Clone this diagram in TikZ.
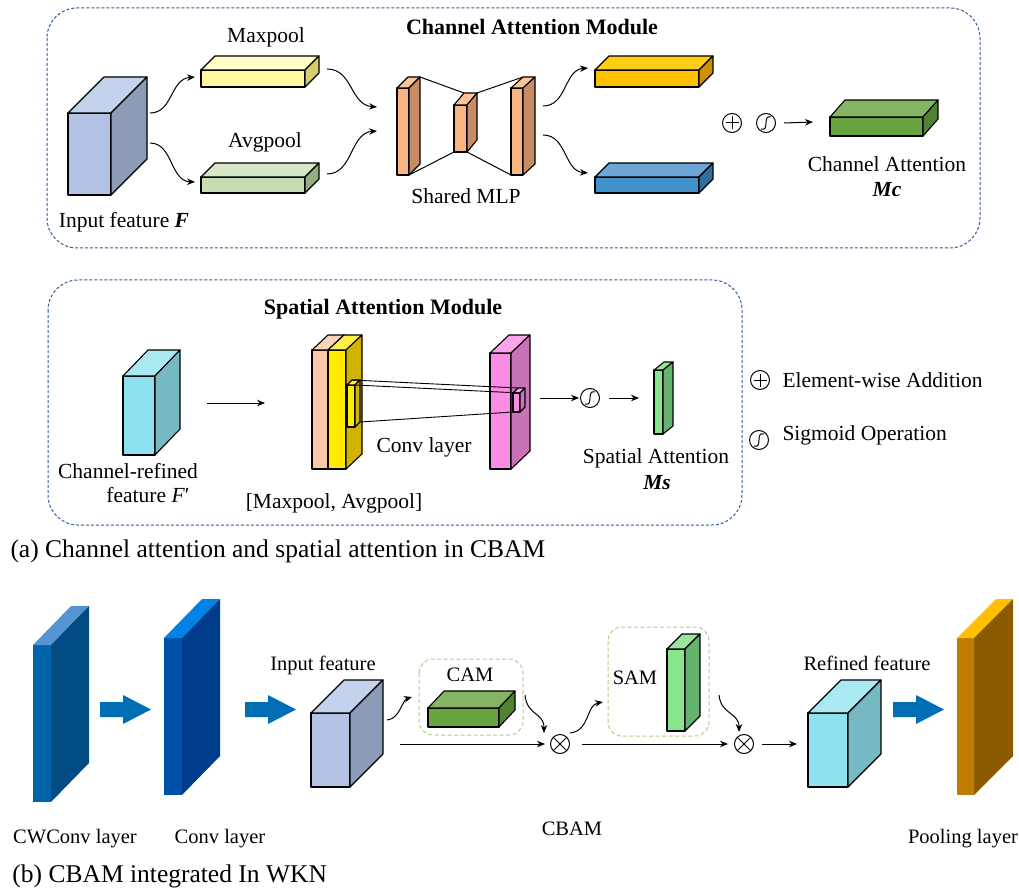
\documentclass[tikz,border=0pt]{standalone}
\usepackage{fontspec}
\setmainfont{Liberation Serif}
\usetikzlibrary{arrows.meta}
\definecolor{inF}{RGB}{180,194,230}\definecolor{inT}{RGB}{196,210,236}\definecolor{inS}{RGB}{140,155,182}
\definecolor{yelF}{RGB}{255,250,160}\definecolor{yelT}{RGB}{255,253,195}\definecolor{yelS}{RGB}{215,205,110}
\definecolor{avgF}{RGB}{200,220,180}\definecolor{avgT}{RGB}{214,230,198}\definecolor{avgS}{RGB}{150,172,130}
\definecolor{orF}{RGB}{250,180,130}\definecolor{orT}{RGB}{252,196,152}\definecolor{orS}{RGB}{200,140,100}
\definecolor{goldF}{RGB}{255,192,0}\definecolor{goldT}{RGB}{255,206,20}\definecolor{goldS}{RGB}{205,145,0}
\definecolor{bluF}{RGB}{65,145,205}\definecolor{bluT}{RGB}{110,165,215}\definecolor{bluS}{RGB}{50,110,160}
\definecolor{grF}{RGB}{104,165,64}\definecolor{grT}{RGB}{132,180,100}\definecolor{grS}{RGB}{80,130,50}
\definecolor{cyF}{RGB}{142,226,240}\definecolor{cyT}{RGB}{170,232,242}\definecolor{cyS}{RGB}{118,185,195}
\definecolor{peF}{RGB}{250,200,168}\definecolor{peT}{RGB}{250,212,184}\definecolor{peS}{RGB}{210,160,130}
\definecolor{ylF}{RGB}{255,235,0}\definecolor{ylT}{RGB}{255,240,70}\definecolor{ylS}{RGB}{210,180,0}
\definecolor{pkF}{RGB}{250,140,230}\definecolor{pkT}{RGB}{250,165,235}\definecolor{pkS}{RGB}{200,115,185}
\definecolor{lgF}{RGB}{135,230,140}\definecolor{lgT}{RGB}{155,228,155}\definecolor{lgS}{RGB}{100,180,110}
\definecolor{cwF}{RGB}{0,100,170}\definecolor{cwT}{RGB}{85,150,210}\definecolor{cwS}{RGB}{0,75,130}
\definecolor{cvF}{RGB}{0,80,170}\definecolor{cvT}{RGB}{0,130,230}\definecolor{cvS}{RGB}{0,60,140}
\definecolor{plF}{RGB}{190,125,0}\definecolor{plT}{RGB}{255,192,0}\definecolor{plS}{RGB}{140,90,0}
\definecolor{arrB}{RGB}{0,110,180}
\definecolor{dashB}{RGB}{50,90,160}
\definecolor{dashG}{RGB}{169,209,142}
\newcommand{\mycube}[9]{%
  \path[cubeline,fill=#7] (#1,#2) rectangle ++(#3,#4);
  \path[cubeline,fill=#8] (#1,#2) -- ++(#5,-#6) -- ++(#3,0) -- ++(-#5,#6) -- cycle;
  \path[cubeline,fill=#9] (#1+#3,#2) -- ++(#5,-#6) -- ++(0,#4) -- ++(-#5,#6) -- cycle;
}
\newcommand{\plusop}[1]{\draw ([xshift=-6.5pt]#1.center) -- ([xshift=6.5pt]#1.center) ([yshift=-6.5pt]#1.center) -- ([yshift=6.5pt]#1.center);}
\newcommand{\timesop}[1]{\draw (#1.north west) -- (#1.south east) (#1.north east) -- (#1.south west);}
\newcommand{\sigop}[1]{\draw ([shift={(-5,6)}]#1.center) .. controls ([shift={(4,9)}]#1.center) and ([shift={(-4,-9)}]#1.center) .. ([shift={(5,-6)}]#1.center);}
\newcommand{\blockarrow}[2]{\fill[arrB] (#1,#2-7.5) -- (#1+23,#2-7.5) -- (#1+23,#2-14.5) -- (#1+51,#2) -- (#1+23,#2+14.5) -- (#1+23,#2+7.5) -- (#1,#2+7.5) -- cycle;}
\begin{document}
\begin{tikzpicture}[x=1pt,y=-1pt,line width=1pt,
  cubeline/.style={draw=black,line width=1.1pt,line join=round},
  lbl/.style={font=\fontsize{21.5}{24}\selectfont,inner sep=0,anchor=base},
  lblb/.style={font=\fontsize{20.5}{24}\selectfont,inner sep=0,anchor=base},
  ttl/.style={font=\fontsize{22}{24}\selectfont\bfseries,inner sep=0,anchor=base},
  captxt/.style={font=\fontsize{25.5}{28}\selectfont,inner sep=0,anchor=base west},
  arr/.style={-{Stealth[length=8pt,width=6.5pt]},line width=1pt},
  opn/.style={circle,draw,line width=1pt,minimum size=19pt,inner sep=0},
  bdash/.style={draw=dashB,line width=1pt,dash pattern=on 3pt off 2pt,rounded corners=30pt},
  gdash/.style={draw=dashG,line width=1pt,dash pattern=on 4pt off 2.5pt,rounded corners=14pt}]
\fill[white] (0,0) rectangle (1019,890);
\useasboundingbox (0,0) rectangle (1019,890);

% ================= Channel attention module =================
\draw[bdash] (47,8) rectangle (980,248);
\node[ttl] (camtitle) at (532,35) {Channel Attention Module};

\mycube{68}{113}{43}{82}{36}{36}{inF}{inT}{inS}
\node[lbl] (linF) at (124,228) {Input feature \textbf{\textit{F}}};
\mycube{201}{70}{104}{17}{14}{14}{yelF}{yelT}{yelS}
\node[lbl] (lmax) at (266,43) {Maxpool};
\mycube{201}{177}{104}{16}{14}{14}{avgF}{avgT}{avgS}
\node[lbl] (lavg) at (265,148) {Avgpool};

\coordinate (a1s) at (150,113); \coordinate (a1e) at (195,77);
\coordinate (a2s) at (150,143); \coordinate (a2e) at (195,182);
\coordinate (a3s) at (327,69);  \coordinate (a3e) at (377,107);
\coordinate (a4s) at (327,174); \coordinate (a4e) at (377,131);
\coordinate (a5s) at (543,106); \coordinate (a5e) at (588,68);
\coordinate (a6s) at (543,135); \coordinate (a6e) at (588,173);
\draw[arr] (a1s) .. controls (173,113) and (170,79) .. (a1e);
\draw[arr] (a2s) .. controls (173,143) and (170,181) .. (a2e);
\draw[arr] (a3s) .. controls (353,69) and (350,105) .. (a3e);
\draw[arr] (a4s) .. controls (353,174) and (350,133) .. (a4e);
\draw[arr] (a5s) .. controls (567,106) and (564,70) .. (a5e);
\draw[arr] (a6s) .. controls (567,135) and (564,171) .. (a6e);

% shared MLP
\mycube{397}{88}{12}{87}{11}{11}{orF}{orT}{orS}
\mycube{454}{105}{13}{47}{10}{12}{orF}{orT}{orS}
\mycube{511}{88}{12}{87}{12}{11}{orF}{orT}{orS}
\coordinate (m1) at (420,77); \coordinate (m2) at (464,93);
\coordinate (m3) at (477,93); \coordinate (m4) at (523,77);
\coordinate (m5) at (409,175); \coordinate (m6) at (454,152);
\coordinate (m7) at (467,152); \coordinate (m8) at (511,175);
\draw (m1) -- (m2) (m3) -- (m4) (m5) -- (m6) (m7) -- (m8);
\node[lbl] (lmlp) at (466,204) {Shared MLP};

\mycube{595}{70}{104}{17}{14}{14}{goldF}{goldT}{goldS}
\mycube{595}{177}{104}{16}{14}{14}{bluF}{bluT}{bluS}

\node[opn] (plus1) at (732,123) {}; \plusop{plus1}
\node[opn] (sig1) at (766,123) {}; \sigop{sig1}
\coordinate (mcin) at (813,122);
\draw[arr] ([xshift=8pt]sig1.east) -- (mcin);
\mycube{830}{117}{93}{19}{15}{17}{grF}{grT}{grS}
\node[lbl] (lmc1) at (887,172) {Channel Attention};
\node[lbl] (lmc2) at (887,197) {\textbf{\textit{Mc}}};

% ================= Spatial attention module =================
\draw[bdash] (48,280) rectangle (742,525);
\node[ttl] (samtitle) at (383,314) {Spatial Attention Module};

\mycube{123}{376}{32}{79}{25}{26}{cyF}{cyT}{cyS}
\node[lbl] (lcr1) at (128,478) {Channel-refined};
\node[lbl] (lcr2) at (148,502) {feature \textit{F}′};
\coordinate (s1s) at (207,403); \coordinate (s1e) at (265,403);
\draw[arr] (s1s) -- (s1e);

\mycube{312}{350}{16}{119}{16}{15}{peF}{peT}{peS}
\mycube{328}{350}{18}{119}{16}{15}{ylF}{ylT}{ylS}
\mycube{347}{385}{8}{42}{5}{5}{ylF}{ylT}{ylS}
\mycube{490}{353}{21}{116}{19}{18}{pkF}{pkT}{pkS}
\mycube{513}{393}{7}{19}{5}{5}{pkF}{pkT}{pkS}
\coordinate (k1) at (352,380); \coordinate (k2) at (518,388);
\coordinate (k3) at (355,385); \coordinate (k4) at (520,393);
\coordinate (k5) at (360,422); \coordinate (k6) at (513,412);
\draw[line width=0.9pt] (k1) -- (k2) (k3) -- (k4) (k5) -- (k6);
\node[lbl] (lconv) at (424,452) {Conv layer};
\node[lbl] (lpool) at (334,508) {[Maxpool, Avgpool]};

\coordinate (s2s) at (540,398);
\node[opn] (sig2) at (590,398) {}; \sigop{sig2}
\coordinate (s3e) at (639,398);
\draw[arr] (s2s) -- ([xshift=-1pt]sig2.west);
\draw[arr] ([xshift=9pt]sig2.east) -- (s3e);
\mycube{654}{370}{9}{64}{10}{8}{lgF}{lgT}{lgS}
\node[lbl] (lsa1) at (656,463) {Spatial Attention};
\node[lbl] (lsa2) at (657,489) {\textbf{\textit{Ms}}};

% legend
\node[opn] (legA) at (760,380) {}; \plusop{legA}
\node[lbl,anchor=base west] (legAt) at (782,387) {Element-wise Addition};
\node[opn] (legS) at (759,440) {}; \sigop{legS}
\node[lbl,anchor=base west] (legSt) at (782,440) {Sigmoid Operation};

\node[captxt] (capa) at (10,557) {(a) Channel attention and spatial attention in CBAM};

% ================= CBAM in WKN =================
\begin{scope}[cubeline/.style={draw=none}]
\mycube{33}{645}{18}{157}{38}{39}{cwF}{cwT}{cwS}
\mycube{164}{638}{18}{157}{38}{39}{cvF}{cvT}{cvS}
\mycube{957}{638}{17}{157}{39}{39}{plF}{plT}{plS}
\end{scope}
\blockarrow{100}{709.5}
\blockarrow{245}{709.5}
\blockarrow{893}{709.5}
\node[lblb] (lcw) at (75,843) {CWConv layer};
\node[lblb] (lcv) at (220,843) {Conv layer};
\node[lblb] (lpl) at (963,843) {Pooling layer};

\mycube{311}{713}{39}{74}{33}{33}{inF}{inT}{inS}
\node[lblb] (lif) at (323,670) {Input feature};

\draw[gdash] (419,659) rectangle (523,735);
\node[lblb] (lcam) at (470,681) {CAM};
\mycube{428}{708}{71}{19}{16}{17}{grF}{grT}{grS}

\draw[gdash] (608,627) rectangle (709,736);
\node[lblb] (lsam) at (635,684) {SAM};
\mycube{667}{649}{18}{82}{15}{15}{lgF}{lgT}{lgS}

\node[opn] (x1) at (560,744) {}; \timesop{x1}
\node[opn] (x2) at (744,744) {}; \timesop{x2}

\coordinate (b1s) at (387,720); \coordinate (b1e) at (412,697);
\coordinate (b2s) at (525,695); \coordinate (b2e) at (544,733);
\coordinate (b3s) at (570,733); \coordinate (b3e) at (603,702);
\coordinate (b4s) at (719,695); \coordinate (b4e) at (739,732);
\coordinate (h1s) at (400,744); \coordinate (h1e) at (545,744);
\coordinate (h2s) at (582,744); \coordinate (h2e) at (728,744);
\coordinate (h3s) at (762,744); \coordinate (h3e) at (797,744);
\draw[arr] (b1s) .. controls (400,719) and (402,700) .. (b1e);
\draw[arr] (b2s) .. controls (527,716) and (544,712) .. (b2e);
\draw[arr] (b3s) .. controls (590,731) and (586,705) .. (b3e);
\draw[arr] (b4s) .. controls (721,715) and (739,712) .. (b4e);
\draw[arr] (h1s) -- (h1e);
\draw[arr] (h2s) -- (h2e);
\draw[arr] (h3s) -- (h3e);
\node[lblb] (lcbam) at (572,835) {CBAM};

\mycube{808}{713}{40}{74}{33}{33}{cyF}{cyT}{cyS}
\node[lblb] (lref) at (867,670) {Refined feature};

\node[captxt] (capb) at (12,882) {(b) CBAM integrated In WKN};
\end{tikzpicture}
\end{document}
